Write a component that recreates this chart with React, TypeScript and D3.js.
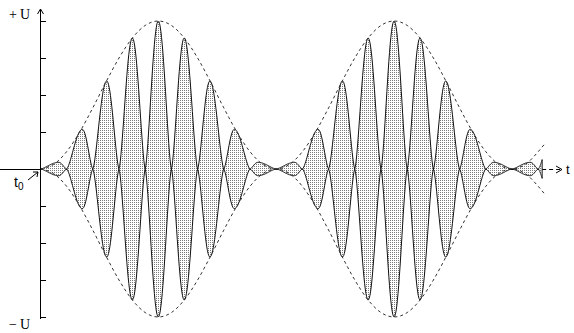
import * as d3 from "d3";

const W = 574;
const H = 333;

// carrier half-periods (lens k spans t = k .. k+1)
const lensPeak = [0.045, 0.268, 0.595, 0.885, 1.0, 0.885, 0.595, 0.268, 0.045, 0.045, 0.268, 0.595, 0.885, 1.0, 0.885, 0.595, 0.268, 0.045, 0.045, 0.268];
const lensPeakAt = [0.7, 0.6, 0.53, 0.51, 0.5, 0.49, 0.47, 0.4, 0.3, 0.7, 0.6, 0.53, 0.51, 0.5, 0.49, 0.47, 0.4, 0.3, 0.7, 0.6];
const signalEnd = 19.15;

// dashed envelope samples (t, fraction of U)
const envT = [0, 0.5, 1, 1.5, 2, 2.5, 3, 3.5, 4, 4.5, 5, 5.5, 6, 6.5, 7, 7.5, 8, 8.5, 9, 9.5, 10, 10.5, 11, 11.5, 12, 12.5, 13, 13.5, 14, 14.5, 15, 15.5, 16, 16.5, 17, 17.5, 18, 18.5, 19, 19.25];
const envU = [0, 0.03, 0.117, 0.25, 0.413, 0.587, 0.75, 0.883, 0.97, 1, 0.97, 0.883, 0.75, 0.587, 0.413, 0.25, 0.117, 0.03, 0, 0.03, 0.117, 0.25, 0.413, 0.587, 0.75, 0.883, 0.97, 1, 0.97, 0.883, 0.75, 0.587, 0.413, 0.25, 0.117, 0.03, 0, 0.03, 0.117, 0.17];

const yTicks = [-1, -0.75, -0.5, -0.25, 0.25, 0.5, 0.75, 1];

const x = d3.scaleLinear().domain([0, 20]).range([40.4, 564.4]);
const y = d3.scaleLinear().domain([-1, 1]).range([317, 21]);

// lens outline: spindle-shaped lobe (pointed tips, touching at the axis)
function lensPath(k: number) {
  const a = lensPeak[k];
  const p = k + lensPeakAt[k];
  const end = Math.min(k + 1, signalEnd);
  const n = 40;
  const shape = (t: number) => {
    const s = t <= p
      ? Math.sin((Math.PI / 2) * (t - k) / (p - k))
      : Math.sin((Math.PI / 2) * (k + 1 - t) / (k + 1 - p));
    return a * Math.pow(s, 1.5);
  };
  const ts = d3.range(n + 1).map((i) => k + ((end - k) * i) / n);
  const upper = ts.map((t) => [x(t), y(shape(t))] as [number, number]);
  const lower = ts.slice().reverse().map((t) => [x(t), y(-shape(t))] as [number, number]);
  return d3.line()([...upper, ...lower]) + "Z";
}

export default function App() {
  const env = envT.map((t, i) => ({ t, u: envU[i] }));
  const envLine = (s: number) =>
    d3.line<{ t: number; u: number }>()
      .x((d) => x(d.t))
      .y((d) => y(s * d.u))
      .curve(d3.curveMonotoneX)(env) || "";
  const y0 = y(0);
  const xEnd = x(signalEnd);
  const serif = "Liberation Serif, Times New Roman, serif";
  const sans = "Liberation Sans, Arial, sans-serif";

  return (
    <svg width={W} height={H} style={{ position: "absolute", left: 0, top: 0, background: "#fff" }}>
      <defs>
        <pattern id="dots" width="2" height="2" patternUnits="userSpaceOnUse">
          <rect width="2" height="2" fill="#fff" />
          <rect width="1" height="1" fill="#7a7a7a" />
        </pattern>
      </defs>

      {/* x axis */}
      <line x1={0} x2={xEnd} y1={y0 + 0.5} y2={y0 + 0.5} stroke="#000" />
      <line x1={xEnd} x2={560} y1={y0 + 0.5} y2={y0 + 0.5} stroke="#000" strokeDasharray="4,3" />
      <path d={`M556,${y0 - 3}L562,${y0 + 0.5}L556,${y0 + 4}`} fill="none" stroke="#000" />
      <text x={566} y={y0 + 5} fontFamily={sans} fontSize={13}>t</text>

      {/* lenses */}
      {lensPeak.map((_, k) =>
        k < signalEnd ? (
          <path key={k} d={lensPath(k)} fill="url(#dots)" stroke="#111" strokeWidth={1} />
        ) : null
      )}

      {/* envelope */}
      <path d={envLine(1)} fill="none" stroke="#333" strokeDasharray="3,3" />
      <path d={envLine(-1)} fill="none" stroke="#333" strokeDasharray="3,3" />

      {/* y axis */}
      <line x1={40.5} x2={40.5} y1={9} y2={319} stroke="#000" />
      <path d="M37.5,14L40.5,9L43.5,14" fill="none" stroke="#000" />
      {yTicks.map((v) => (
        <line key={v} x1={40.5} x2={46} y1={Math.round(y(v)) + 0.5} y2={Math.round(y(v)) + 0.5} stroke="#000" />
      ))}
      <text x={9} y={19} fontFamily={serif} fontSize={14}>+<tspan dx={3}>U</tspan></text>
      <text x={9} y={329} fontFamily={serif} fontSize={14}>−<tspan dx={3}>U</tspan></text>

      {/* t0 marker */}
      <text x={14} y={187} fontFamily={sans} fontSize={14}>
        t<tspan fontSize={10} dy={3}>0</tspan>
      </text>
      <line x1={28} y1={180} x2={38} y2={172} stroke="#000" />
      <path d="M33,172L38,172L37,177" fill="none" stroke="#000" />
    </svg>
  );
}
